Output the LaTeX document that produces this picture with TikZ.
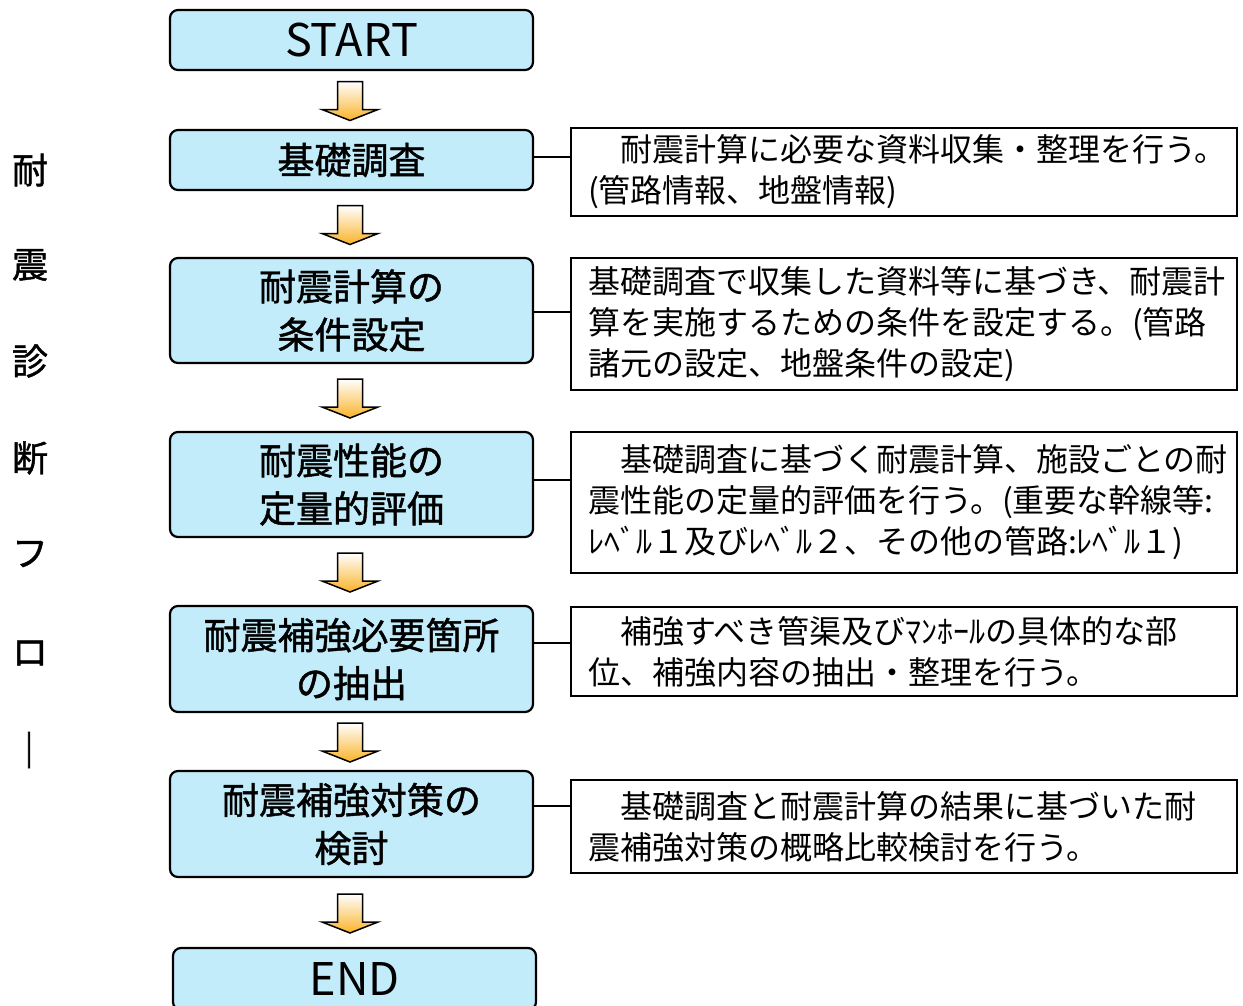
\documentclass[tikz,border=0pt]{standalone}
\usepackage{fontspec}
\setmainfont{Noto Sans CJK JP}
\newfontfamily\jp{Noto Sans CJK JP}
\newfontfamily\jpb{Noto Sans CJK JP}[FakeBold=1.2]
\newfontfamily\jpbb{Noto Sans CJK JP}[FakeBold=2.5]
\usetikzlibrary{calc}
\definecolor{boxcyan}{RGB}{194,236,250}
\definecolor{arrorange}{RGB}{250,178,40}
\tikzset{
  stepbox/.style={draw=black, line width=2.2pt, rounded corners=8pt, fill=boxcyan,
    minimum width=363pt, align=center, inner sep=0pt,
    font=\jpb\fontsize{37}{48}\selectfont},
  bigword/.style={font=\jp\fontsize{45}{48}\selectfont},
  descbox/.style={draw=black, line width=1.6pt, minimum width=666pt, text width=632pt,
    align=left, inner xsep=17pt, inner ysep=0pt,
    font=\jp\fontsize{32}{41}\selectfont},
  sidechar/.style={inner sep=0pt, font=\jpb\fontsize{36}{36}\selectfont},
  link/.style={draw=black, line width=1.4pt},
  blockarr/.pic={\shade[top color=white, bottom color=arrorange, draw=black, line width=1.5pt, line join=miter]
     (-12.5,-19.5) -- (12.5,-19.5) -- (12.5,8.5) -- (28,8.5) -- (0,19.5) -- (-28,8.5) -- (-12.5,8.5) -- cycle;}
}
\begin{document}
\begin{tikzpicture}[x=1pt,y=-1pt]
\useasboundingbox (0,0) rectangle (1243,1005);
\clip (0,0) rectangle (1243,1005);
\fill[white] (0,0) rectangle (1243,1005);

% left vertical title
\node[sidechar] (t1) at (30,170) {耐};
\node[sidechar] (t2) at (30,265) {震};
\node[sidechar] (t3) at (30,361) {診};
\node[sidechar] (t4) at (30,458) {断};
\node[sidechar] (t5) at (30,554) {フ};
\node[sidechar] (t6) at (30,653) {ロ};
\node[sidechar, font=\jpbb\fontsize{36}{36}\selectfont] (t7) at (29,750) {｜};

% flow boxes
\node[stepbox, bigword, minimum height=60pt] (s0) at (351.5,40) {START};
\node[stepbox, minimum height=60pt] (s1) at (351.5,160) {基礎調査};
\node[stepbox, minimum height=105pt] (s2) at (351.5,310.5) {耐震計算の\\条件設定};
\node[stepbox, minimum height=105pt] (s3) at (351.5,484.5) {耐震性能の\\定量的評価};
\node[stepbox, minimum height=106pt] (s4) at (351.5,659) {耐震補強必要箇所\\の抽出};
\node[stepbox, minimum height=106pt] (s5) at (351.5,824) {耐震補強対策の\\検討};
\node[stepbox, bigword, minimum height=62pt] (s6) at (354.5,979) {END};

% block arrows between boxes
\foreach \a/\b in {s0/s1,s1/s2,s2/s3,s3/s4,s4/s5,s5/s6}{
  \path let \p1=($(\a.south)!0.5!(\b.north)$) in pic at (350,\y1-1) {blockarr};
}

% description boxes
\node[descbox, minimum height=88pt] (d1) at (904,172) {　耐震計算に必要な資料収集・整理を行う。\\(管路情報、地盤情報)};
\node[descbox, minimum height=132pt] (d2) at (904,324) {基礎調査で収集した資料等に基づき、耐震計\\算を実施するための条件を設定する。(管路\\諸元の設定、地盤条件の設定)};
\node[descbox, minimum height=141pt] (d3) at (904,502.5) {　基礎調査に基づく耐震計算、施設ごとの耐\\震性能の定量的評価を行う。(重要な幹線等:\\ﾚﾍﾞﾙ１及びﾚﾍﾞﾙ２、その他の管路:ﾚﾍﾞﾙ１)};
\node[descbox, minimum height=89pt] (d4) at (904,651.5) {　補強すべき管渠及びﾏﾝﾎｰﾙの具体的な部\\位、補強内容の抽出・整理を行う。};
\node[descbox, minimum height=93pt] (d5) at (904,826.5) {　基礎調査と耐震計算の結果に基づいた耐\\震補強対策の概略比較検討を行う。};

% connectors
\coordinate (c1) at (550,157);
\coordinate (c2) at (550,312);
\coordinate (c3) at (550,480);
\coordinate (c4) at (550,643);
\coordinate (c5) at (550,806);
\draw[link] (s1.east |- c1) -- (d1.west |- c1);
\draw[link] (s2.east |- c2) -- (d2.west |- c2);
\draw[link] (s3.east |- c3) -- (d3.west |- c3);
\draw[link] (s4.east |- c4) -- (d4.west |- c4);
\draw[link] (s5.east |- c5) -- (d5.west |- c5);
\end{tikzpicture}
\end{document}
